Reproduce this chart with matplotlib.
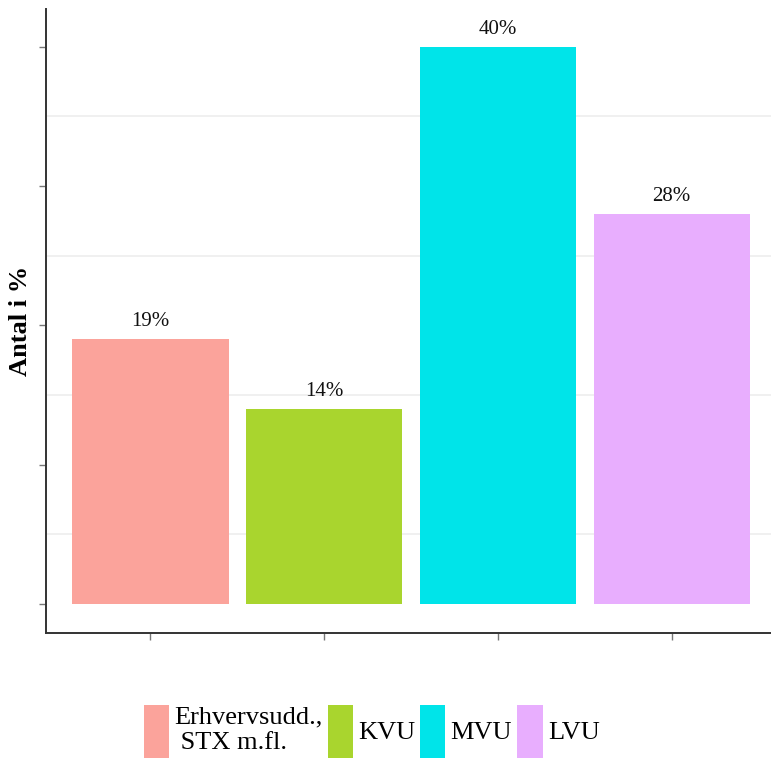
import matplotlib.pyplot as plt
from matplotlib.ticker import NullFormatter

plt.rcParams['font.family'] = ['Liberation Serif', 'DejaVu Serif']

groups = ["Erhvervsudd.,\n STX m.fl.", "KVU", "MVU", "LVU"]
values = [19, 14, 40, 28]
colors = ["#FBA39B", "#A9D52E", "#00E4E9", "#E8AEFE"]

fig = plt.figure(figsize=(7.71, 7.64), dpi=100)
ax = fig.add_axes([0.0597, 0.1715, 0.9468, 0.8168])

pos = range(1, len(values) + 1)
bars = ax.bar(pos, values, width=0.9, color=colors, label=groups)

for x, v in zip(pos, values):
    ax.annotate(f"{v}%", (x, v), xytext=(0, 12.5), textcoords='offset points',
                ha='center', va='center', fontsize=15, color='#111111')

ax.set_xlim(0.4, 4.6)
ax.set_ylim(-2.08, 42.7)
ax.set_xticks(list(pos))
ax.set_yticks([0, 10, 20, 30, 40])
ax.set_yticks([5, 15, 25, 35], minor=True)
ax.xaxis.set_major_formatter(NullFormatter())
ax.yaxis.set_major_formatter(NullFormatter())
ax.tick_params(which='major', length=5, width=1, color='#777777')
ax.tick_params(which='minor', length=0)
ax.grid(which='minor', axis='y', color='#ececec', lw=1.1)
ax.set_axisbelow(True)

for s in ['top', 'right']:
    ax.spines[s].set_visible(False)
for s in ['left', 'bottom']:
    ax.spines[s].set_color('#333333')
    ax.spines[s].set_linewidth(1.4)

ax.set_ylabel("Antal i %", fontsize=19, fontweight='bold')
ax.yaxis.label.set_verticalalignment('center')
ax.yaxis.set_label_coords(-26 / 730, 0.5)

fig.legend(handles=bars, labels=groups, loc='center', ncol=4,
           bbox_to_anchor=(0.482, 0.043), frameon=False, fontsize=19,
           handlelength=0.95, handleheight=2.7, handletextpad=0.2,
           columnspacing=0.2, borderpad=0.1)

fig.savefig("out.png", dpi=100)
